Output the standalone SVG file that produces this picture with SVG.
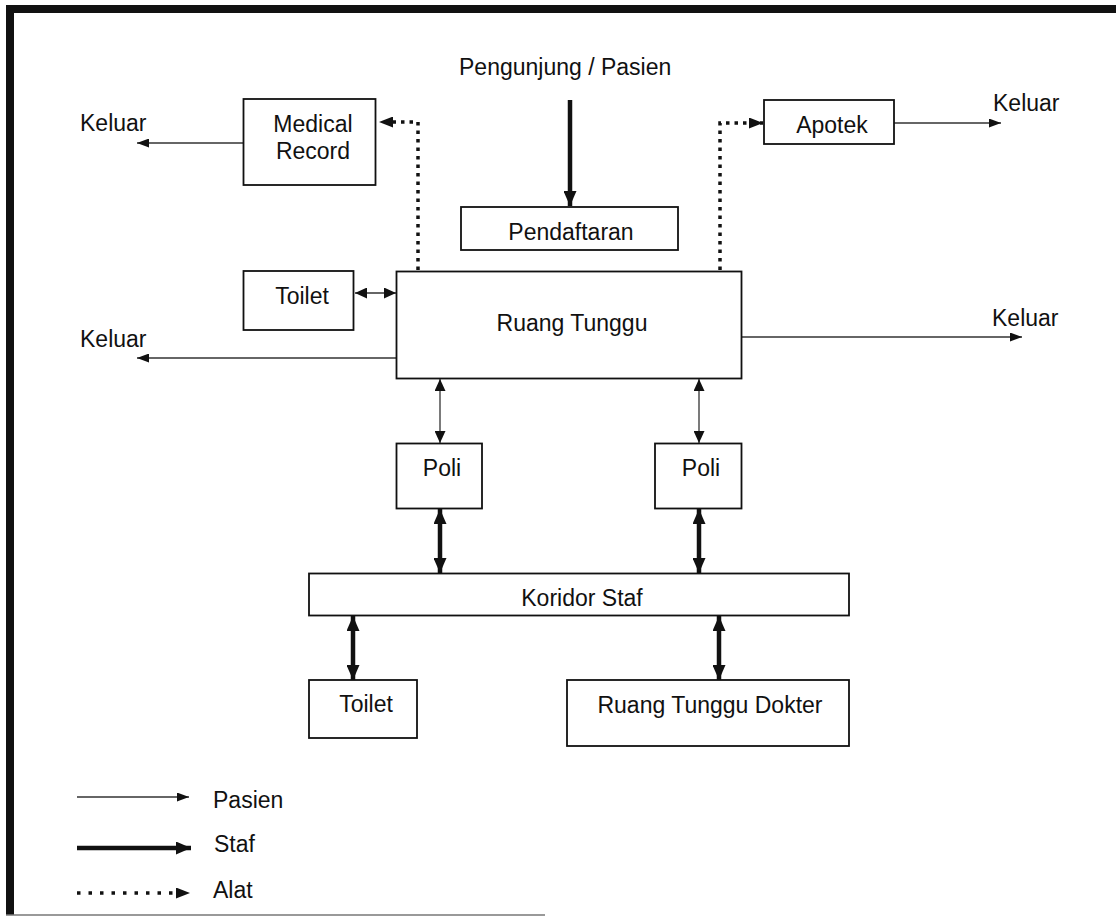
<svg xmlns="http://www.w3.org/2000/svg" width="1116" height="917" viewBox="0 0 1116 917">
  <style>
    text { font-family: "Liberation Sans", Arial, sans-serif; font-size: 23px; fill: #111; }
    .mid { text-anchor: middle; }
    .box { fill: #fff; stroke: #111; stroke-width: 1.8; }
    .thin { fill: none; stroke: #333; stroke-width: 1.3; }
    .bold { fill: none; stroke: #111; stroke-width: 4.5; }
    .dot { fill: none; stroke: #111; stroke-width: 3.5; stroke-dasharray: 3.5 5; }
    .dotwide { fill: none; stroke: #111; stroke-width: 3.5; stroke-dasharray: 3.5 8; }
  </style>
  <defs>
    <marker id="tip" viewBox="0 0 12 9" refX="12" refY="4.5" markerUnits="userSpaceOnUse" markerWidth="12" markerHeight="9" orient="auto-start-reverse">
      <path d="M0,0 L12,4.5 L0,9 Z" fill="#111"/>
    </marker>
    <marker id="tip2" viewBox="0 0 12 11" refX="12" refY="5.5" markerUnits="userSpaceOnUse" markerWidth="12" markerHeight="11" orient="auto-start-reverse">
      <path d="M0,0 L12,5.5 L0,11 Z" fill="#111"/>
    </marker>
    <marker id="tipBold" viewBox="0 0 15 13" refX="15" refY="6.5" markerUnits="userSpaceOnUse" markerWidth="15" markerHeight="13" orient="auto-start-reverse">
      <path d="M0,0 L15,6.5 L0,13 Z" fill="#111"/>
    </marker>
    <marker id="tipDot" viewBox="0 0 14 11" refX="14" refY="5.5" markerUnits="userSpaceOnUse" markerWidth="14" markerHeight="11" orient="auto">
      <path d="M0,0 L14,5.5 L0,11 Z" fill="#111"/>
    </marker>
  </defs>

  <!-- page frame -->
  <g id="frame">
    <rect x="6" y="5" width="1110" height="8" fill="#111"/>
    <rect x="6" y="5" width="8" height="910" fill="#111"/>
    <line x1="6" y1="915" x2="545" y2="915" stroke="#777" stroke-width="1.5"/>
  </g>

  <!-- connectors -->
  <g id="connectors">
    <!-- entrance -->
    <line class="bold" x1="570" y1="100" x2="570" y2="206" marker-end="url(#tipBold)"/>
    <!-- exits (patients) -->
    <line class="thin" x1="243" y1="143" x2="137" y2="143" marker-end="url(#tip)"/>
    <line class="thin" x1="894" y1="123" x2="1001" y2="123" marker-end="url(#tip)"/>
    <line class="thin" x1="397" y1="358" x2="137" y2="358" marker-end="url(#tip)"/>
    <line class="thin" x1="742" y1="337" x2="1022" y2="337" marker-end="url(#tip)"/>
    <!-- waiting room links -->
    <line class="thin" x1="355" y1="293" x2="396" y2="293" marker-start="url(#tip2)" marker-end="url(#tip2)"/>
    <line class="thin" x1="440" y1="379" x2="440" y2="443" marker-start="url(#tip2)" marker-end="url(#tip2)"/>
    <line class="thin" x1="699" y1="379" x2="699" y2="443" marker-start="url(#tip2)" marker-end="url(#tip2)"/>
    <!-- staff links -->
    <line class="bold" x1="440" y1="509" x2="440" y2="573" marker-start="url(#tipBold)" marker-end="url(#tipBold)"/>
    <line class="bold" x1="699" y1="509" x2="699" y2="573" marker-start="url(#tipBold)" marker-end="url(#tipBold)"/>
    <line class="bold" x1="353" y1="616" x2="353" y2="680" marker-start="url(#tipBold)" marker-end="url(#tipBold)"/>
    <line class="bold" x1="719" y1="616" x2="719" y2="680" marker-start="url(#tipBold)" marker-end="url(#tipBold)"/>
    <!-- equipment -->
    <path class="dot" d="M418,270 V122 H379" marker-end="url(#tipDot)"/>
    <path class="dot" d="M720,270 V123 H763" marker-end="url(#tipDot)"/>
  </g>

  <text id="visitor" x="459" y="75">Pengunjung / Pasien</text>
  <text id="exit-1" x="80" y="131">Keluar</text>
  <text id="exit-2" x="993" y="111">Keluar</text>
  <text id="exit-3" x="80" y="347">Keluar</text>
  <text id="exit-4" x="992" y="326">Keluar</text>

  <g id="medical-record">
    <rect class="box" x="243.5" y="99" width="132" height="86"/>
    <text class="mid" x="313" y="132">Medical</text>
    <text class="mid" x="313" y="159">Record</text>
  </g>
  <g id="apotek">
    <rect class="box" x="764" y="100" width="130" height="44"/>
    <text class="mid" x="832" y="133">Apotek</text>
  </g>
  <g id="pendaftaran">
    <rect class="box" x="461" y="207" width="217" height="43"/>
    <text class="mid" x="571" y="240">Pendaftaran</text>
  </g>
  <g id="toilet-1">
    <rect class="box" x="243.5" y="271" width="110" height="59"/>
    <text class="mid" x="302" y="304">Toilet</text>
  </g>
  <g id="ruang-tunggu">
    <rect class="box" x="396.5" y="271.5" width="345" height="107"/>
    <text class="mid" x="572" y="331">Ruang Tunggu</text>
  </g>
  <g id="poli-1">
    <rect class="box" x="396.5" y="443.5" width="85.5" height="65"/>
    <text class="mid" x="442" y="476">Poli</text>
  </g>
  <g id="poli-2">
    <rect class="box" x="655" y="443.5" width="86.5" height="65"/>
    <text class="mid" x="701" y="476">Poli</text>
  </g>
  <g id="koridor-staf">
    <rect class="box" x="309" y="573.5" width="540" height="42"/>
    <text class="mid" x="582" y="606">Koridor Staf</text>
  </g>
  <g id="toilet-2">
    <rect class="box" x="309" y="680" width="108" height="58"/>
    <text class="mid" x="366" y="712">Toilet</text>
  </g>
  <g id="ruang-tunggu-dokter">
    <rect class="box" x="567" y="680" width="282" height="66"/>
    <text class="mid" x="710" y="713">Ruang Tunggu Dokter</text>
  </g>

  <!-- legend -->
  <g id="legend">
    <line class="thin" x1="77" y1="797" x2="189" y2="797" marker-end="url(#tip)"/>
    <text x="213" y="808">Pasien</text>
    <line class="bold" x1="77" y1="848" x2="191" y2="848" marker-end="url(#tipBold)"/>
    <text x="214" y="852">Staf</text>
    <line class="dotwide" x1="77" y1="893" x2="190" y2="893" marker-end="url(#tipDot)"/>
    <text x="213" y="898">Alat</text>
  </g>
</svg>
